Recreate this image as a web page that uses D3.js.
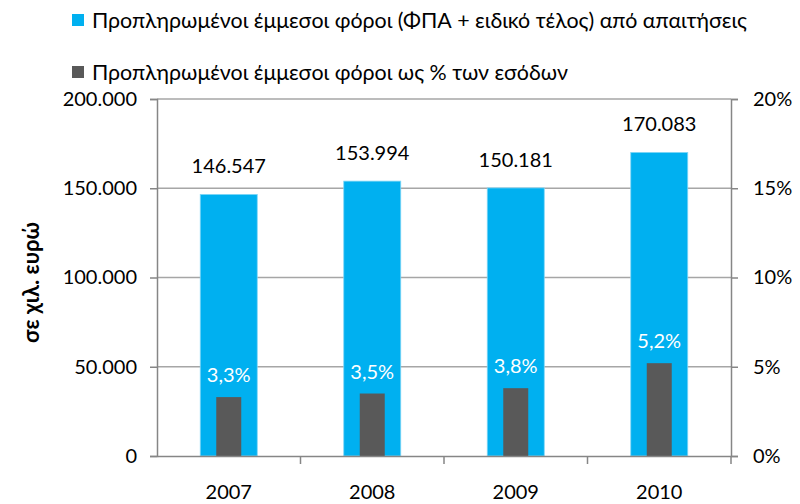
<!DOCTYPE html>
<html>
<head>
  <meta charset="utf-8">
  <title>Προπληρωμένοι έμμεσοι φόροι</title>
  <style>
    body { margin: 0; background: #fff; }
    text { font-family: Lato, "Open Sans", sans-serif; fill: #000; }
    .axis-label { font-size: 20px; }
    .legend-text { font-size: 21.4px; }
  </style>
</head>
<body>
  <svg id="chart"></svg>

  <script src="https://d3js.org/d3.v7.min.js"></script>
  <script>
    // data
    const years = ["2007", "2008", "2009", "2010"];
    const taxValues = [146547, 153994, 150181, 170083];
    const pctValues = [3.3, 3.5, 3.8, 5.2];
    const leftTicks = [0, 50000, 100000, 150000, 200000];
    const rightTicks = [0, 5, 10, 15, 20];
    const legendLabels = [
      "Προπληρωμένοι έμμεσοι φόροι (ΦΠΑ + ειδικό τέλος) από απαιτήσεις",
      "Προπληρωμένοι έμμεσοι φόροι ως % των εσόδων"
    ];
    const yTitle = "σε χιλ. ευρώ";

    const width = 800, height = 504;
    const margin = { top: 99, right: 69, bottom: 48, left: 157 };
    const blue = "#00b0f0", dark = "#595959";
    const axisColor = "#868686", gridColor = "#a6a6a6";

    const svg = d3.select("#chart")
      .attr("width", width)
      .attr("height", height);

    const x = d3.scaleBand()
      .domain(years)
      .range([margin.left, width - margin.right]);

    const yLeft = d3.scaleLinear()
      .domain([0, 200000])
      .range([height - margin.bottom, margin.top]);

    const yRight = d3.scaleLinear()
      .domain([0, 20])
      .range([height - margin.bottom, margin.top]);

    const fmtThousands = d3.formatLocale({ decimal: ",", thousands: ".", grouping: [3], currency: ["", "€"] }).format(",d");
    const fmtPct = d => d.toFixed(1).replace(".", ",") + "%";

    // gridlines
    svg.append("g")
      .selectAll("line")
      .data(leftTicks.slice(1))
      .enter()
      .append("line")
      .attr("x1", margin.left)
      .attr("x2", width - margin.right)
      .attr("y1", d => yLeft(d))
      .attr("y2", d => yLeft(d))
      .attr("stroke", gridColor)
      .attr("stroke-width", 1.5);

    // blue bars
    const blueW = 57, darkW = 25;
    svg.append("g")
      .selectAll("rect")
      .data(taxValues)
      .enter()
      .append("rect")
      .attr("x", (d, i) => x(years[i]) + x.bandwidth() / 2 - blueW / 2)
      .attr("y", d => yLeft(d))
      .attr("width", blueW)
      .attr("height", d => yLeft(0) - yLeft(d))
      .attr("fill", blue)
      .attr("stroke", "#7fd6f6")
      .attr("stroke-width", 0.8);

    // dark bars (right axis)
    svg.append("g")
      .selectAll("rect")
      .data(pctValues)
      .enter()
      .append("rect")
      .attr("x", (d, i) => x(years[i]) + x.bandwidth() / 2 - darkW / 2)
      .attr("y", d => yRight(d))
      .attr("width", darkW)
      .attr("height", d => yRight(0) - yRight(d))
      .attr("fill", dark);

    // value labels
    svg.append("g")
      .selectAll("text")
      .data(taxValues)
      .enter()
      .append("text")
      .attr("class", "axis-label")
      .attr("x", (d, i) => x(years[i]) + x.bandwidth() / 2)
      .attr("y", d => yLeft(d) - 21)
      .attr("text-anchor", "middle")
      .text(d => fmtThousands(d));

    svg.append("g")
      .selectAll("text")
      .data(pctValues)
      .enter()
      .append("text")
      .attr("class", "axis-label")
      .attr("x", (d, i) => x(years[i]) + x.bandwidth() / 2)
      .attr("y", d => yRight(d) - 15)
      .attr("text-anchor", "middle")
      .style("fill", "#fff")
      .text(d => fmtPct(d));

    // left axis
    const leftAxis = svg.append("g")
      .attr("transform", `translate(${margin.left},0)`)
      .call(d3.axisLeft(yLeft).tickValues(leftTicks).tickSize(7).tickPadding(13).tickFormat(fmtThousands));

    // right axis
    const rightAxis = svg.append("g")
      .attr("transform", `translate(${width - margin.right},0)`)
      .call(d3.axisRight(yRight).tickValues(rightTicks).tickSize(7).tickPadding(15).tickFormat(d => d + "%"));

    // bottom axis
    const bottomAxis = svg.append("g")
      .attr("transform", `translate(0,${height - margin.bottom})`)
      .call(d3.axisBottom(x).tickSize(0).tickPadding(29));

    // category separator ticks
    bottomAxis.append("g")
      .selectAll("line")
      .data(years.slice(1).concat(["end"]))
      .enter()
      .append("line")
      .attr("x1", (d, i) => margin.left + x.step() * (i + 1))
      .attr("x2", (d, i) => margin.left + x.step() * (i + 1))
      .attr("y1", 0)
      .attr("y2", 8)
      .attr("stroke", axisColor)
      .attr("stroke-width", 1.5);

    [leftAxis, rightAxis, bottomAxis].forEach(a => {
      a.selectAll(".domain").attr("stroke", axisColor).attr("stroke-width", 1.5);
      a.selectAll(".tick line").attr("stroke", axisColor).attr("stroke-width", 1.5);
      a.selectAll("text").attr("class", "axis-label").attr("fill", "#000")
        .style("font-family", "Lato, 'Open Sans', sans-serif").style("font-size", "20px");
    });

    // y axis title
    svg.append("text")
      .attr("transform", `translate(39,${(margin.top + height - margin.bottom) / 2 + 5}) rotate(-90)`)
      .attr("text-anchor", "middle")
      .style("font-size", "22px")
      .style("font-weight", "bold")
      .text(yTitle);

    // legend
    const legend = svg.append("g");
    const legendColors = [blue, dark];
    const legendY = [14, 66];
    legendLabels.forEach((label, i) => {
      legend.append("rect")
        .attr("x", 72)
        .attr("y", legendY[i])
        .attr("width", 12)
        .attr("height", 12)
        .attr("fill", legendColors[i]);
      legend.append("text")
        .attr("class", "legend-text")
        .attr("x", 92)
        .attr("y", legendY[i] + 14)
        .text(label);
    });
  </script>
</body>
</html>
